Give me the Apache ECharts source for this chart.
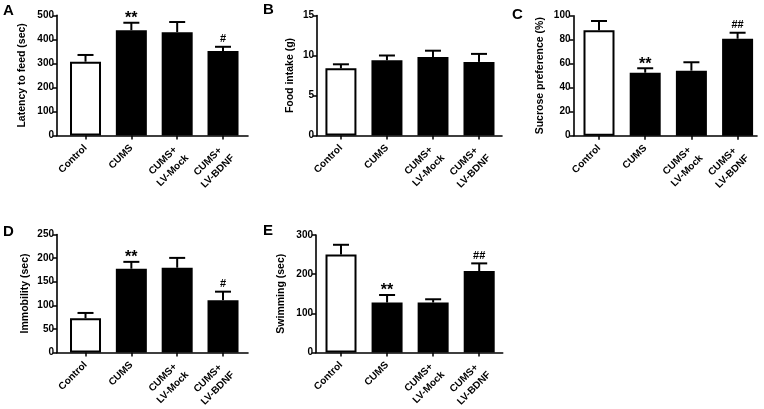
<!DOCTYPE html>
<html><head><meta charset="utf-8">
<script src="https://cdn.jsdelivr.net/npm/echarts@6/dist/echarts.min.js"></script>
<style>html,body{margin:0;padding:0;background:#fff}#c{width:764px;height:409px}</style>
</head><body><div id="c"></div>
<script>
// ---- data ----
const categories = ['Control', 'CUMS', 'CUMS+\nLV-Mock', 'CUMS+\nLV-BDNF'];

const latencyMean = [307, 438, 430, 351];
const latencySem  = [28, 31, 42, 18];
const latencySig  = ['', '**', '', '#'];
const latencyTicks = [0, 100, 200, 300, 400, 500];

const foodMean = [8.4, 9.4, 9.8, 9.2];
const foodSem  = [0.5, 0.6, 0.8, 1.0];
const foodSig  = ['', '', '', ''];
const foodTicks = [0, 5, 10, 15];

const sucroseMean = [87.8, 52.5, 54.2, 80.8];
const sucroseSem  = [7.8, 3.7, 7.0, 5.0];
const sucroseSig  = ['', '**', '', '##'];
const sucroseTicks = [0, 20, 40, 60, 80, 100];

const immobMean = [72.5, 177.5, 179.6, 110.8];
const immobSem  = [11.2, 14.5, 20.8, 18.0];
const immobSig  = ['', '**', '', '#'];
const immobTicks = [0, 50, 100, 150, 200, 250];

const swimMean = [250, 127.5, 127.5, 208];
const swimSem  = [25, 19.2, 8.3, 19.5];
const swimSig  = ['', '**', '', '##'];
const swimTicks = [0, 100, 200, 300];

// ---- layout ----
const FONT = 'Liberation Sans, Arial, sans-serif';
const panels = [
  {label:'A', title:'Latency to feed (sec)', mean:latencyMean, sem:latencySem, sig:latencySig, ticks:latencyTicks,
   grid:{left:57, top:15.3, width:191, height:120.2}, xmin:-0.622, xmax:3.545, nameGap:29, lx:3, ly:3},
  {label:'B', title:'Food intake (g)', mean:foodMean, sem:foodSem, sig:foodSig, ticks:foodTicks,
   grid:{left:317, top:15.5, width:185, height:120}, xmin:-0.52, xmax:3.5, nameGap:21, lx:263, ly:2},
  {label:'C', title:'Sucrose preference (%)', mean:sucroseMean, sem:sucroseSem, sig:sucroseSig, ticks:sucroseTicks,
   grid:{left:573.5, top:15.7, width:183.5, height:120}, xmin:-0.552, xmax:3.42, nameGap:28, lx:512, ly:7},
  {label:'D', title:'Immobility (sec)', mean:immobMean, sem:immobSem, sig:immobSig, ticks:immobTicks,
   grid:{left:57, top:234.5, width:191, height:120}, xmin:-0.622, xmax:3.545, nameGap:26, lx:3, ly:224},
  {label:'E', title:'Swimming (sec)', mean:swimMean, sem:swimSem, sig:swimSig, ticks:swimTicks,
   grid:{left:316, top:235, width:186.7, height:120}, xmin:-0.543, xmax:3.51, nameGap:29, lx:263, ly:223}
];

const grids = [], xAxes = [], yAxes = [], series = [], graphics = [];
const axisLine = {show:true, onZero:false, lineStyle:{color:'#000', width:1.6}};
panels.forEach((p, i) => {
  grids.push(Object.assign({containLabel:false}, p.grid));
  const idx = [0,1,2,3];
  xAxes.push({
    type:'value', gridIndex:i, min:p.xmin, max:p.xmax,
    axisLine:axisLine,
    axisTick:{show:true, customValues:idx, length:4, lineStyle:{color:'#000', width:1.5}},
    axisLabel:{show:true, customValues:idx, rotate:45, margin:1, align:'right', verticalAlign:'top', padding:[0, 7, 0, 0],
      color:'#000', fontWeight:'bold', fontSize:10, fontFamily:FONT,
      formatter: v => (categories[Math.round(v)] || '').split('\n').map(s => '{c|' + s + '}').join('\n'),
      rich:{c:{align:'center', color:'#000', fontWeight:'bold', fontSize:10, fontFamily:FONT, lineHeight:14}}},
    splitLine:{show:false}
  });
  const tk = p.ticks;
  yAxes.push({
    type:'value', gridIndex:i, min:tk[0], max:tk[tk.length-1], interval:tk[1]-tk[0],
    name:p.title, nameLocation:'middle', nameGap:p.nameGap,
    nameTextStyle:{color:'#000', fontWeight:'bold', fontSize:10.5, fontFamily:FONT},
    axisLine:axisLine,
    axisTick:{show:true, length:4, lineStyle:{color:'#000', width:1.5}},
    axisLabel:{color:'#000', fontWeight:'bold', fontSize:10, fontFamily:FONT, margin:3},
    splitLine:{show:false}
  });
  series.push({
    type:'bar', xAxisIndex:i, yAxisIndex:i, barWidth:31, z:2,
    data: p.mean.map((m, k) => ({value:[k, m], itemStyle:{color: k===0 ? '#fff' : '#000', borderColor:'#000', borderWidth:2}}))
  });
  const sig = p.sig;
  series.push({
    type:'custom', xAxisIndex:i, yAxisIndex:i, z:3,
    data: p.mean.map((m, k) => [k, m, p.sem[k]]),
    renderItem: function(params, api){
      const x = api.value(0), m = api.value(1), e = api.value(2);
      const p0 = api.coord([x, m]), p1 = api.coord([x, m + e]);
      const s = sig[params.dataIndex];
      const children = [
        {type:'line', shape:{x1:p0[0], y1:p0[1], x2:p1[0], y2:p1[1]}, style:{stroke:'#000', lineWidth:2}},
        {type:'line', shape:{x1:p1[0]-8, y1:p1[1], x2:p1[0]+8, y2:p1[1]}, style:{stroke:'#000', lineWidth:2}}
      ];
      if (s) {
        const star = s.indexOf('*') >= 0;
        children.push({type:'text', style:{text:s, x:p1[0], y:p1[1] - (star ? -4 : 2), align:'center', verticalAlign:'bottom',
          fill:'#000', fontWeight:'bold', fontSize: star ? 16 : 11, fontFamily:FONT}});
      }
      return {type:'group', children:children};
    }
  });
  graphics.push({type:'text', left:p.lx, top:p.ly, style:{text:p.label, fill:'#000', fontWeight:'bold', fontSize:15, fontFamily:FONT}});
});

const chart = echarts.init(document.getElementById('c'), null, {renderer:'canvas'});
chart.setOption({
  animation:false,
  backgroundColor:'#fff',
  grid:grids, xAxis:xAxes, yAxis:yAxes, series:series, graphic:graphics
});
</script></body></html>
